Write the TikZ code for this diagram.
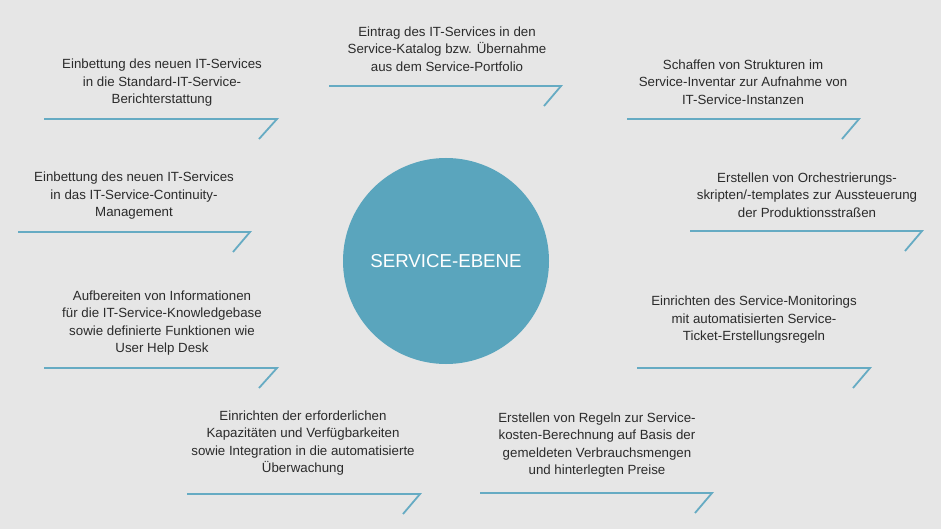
\documentclass[tikz,border=0pt]{standalone}
\usepackage{fontspec}
\setmainfont{Liberation Sans}
\usepackage{tikz}
\definecolor{ebeneblau}{HTML}{5AA5BD}
\definecolor{strichblau}{HTML}{66ABC3}
\definecolor{hgrund}{HTML}{E6E6E6}
\definecolor{schrift}{HTML}{2B2B2B}

\begin{document}
\begin{tikzpicture}[x=1pt,y=-1pt]
    \tikzset{aufgabe/.style={align=center, inner sep=0pt, text=schrift,
        font=\fontsize{13.3}{17.5}\selectfont}};
    \tikzset{strich/.style={draw=strichblau, line width=1.8pt}};
%%
\fill[hgrund] (0,0) rectangle (941,529);
\useasboundingbox (0,0) rectangle (941,529);

\node (ebene) at (446,261) [circle, fill=ebeneblau, minimum size=206pt, inner sep=0pt,
    text=white, font=\fontsize{18.7}{20}\selectfont] {SERVICE-EBENE};

  \node (a1) at (162,83) [aufgabe] {Einbettung des neuen IT-Services\\in die Standard-IT-Service-\\Berichterstattung};
  \node (a2) at (447,49) [aufgabe] {Eintrag des IT-Services in den\\Service-Katalog bzw. Übernahme\\aus dem Service-Portfolio};
  \node (a3) at (743,82) [aufgabe] {Schaffen von Strukturen im\\Service-Inventar zur Aufnahme von\\IT-Service-Instanzen};
  \node (a4) at (807,195) [aufgabe] {Erstellen von Orchestrierungs-\\skripten/-templates zur Aussteuerung\\der Produktionsstraßen};
  \node (a5) at (754,320) [aufgabe] {Einrichten des Service-Monitorings\\mit automatisierten Service-\\Ticket-Erstellungsregeln};
  \node (a6) at (597,445) [aufgabe] {Erstellen von Regeln zur Service-\\kosten-Berechnung auf Basis der\\gemeldeten Verbrauchsmengen\\und hinterlegten Preise};
  \node (a7) at (303,443) [aufgabe] {Einrichten der erforderlichen\\Kapazitäten und Verfügbarkeiten\\sowie Integration in die automatisierte\\Überwachung};
  \node (a8) at (162,323) [aufgabe] {Aufbereiten von Informationen\\für die IT-Service-Knowledgebase\\sowie definierte Funktionen wie\\User Help Desk};
  \node (a9) at (134,196) [aufgabe] {Einbettung des neuen IT-Services\\in das IT-Service-Continuity-\\Management};

  %% Striche unter den Texten
  \draw [strich] (44,119) -- (277,119) -- ++(-18,20);
  \draw [strich] (329,86) -- (561,86) -- ++(-17,20);
  \draw [strich] (627,119) -- (859,119) -- ++(-17,20);
  \draw [strich] (690,231) -- (922,231) -- ++(-17,20);
  \draw [strich] (637,368) -- (870,368) -- ++(-17,20);
  \draw [strich] (480,493) -- (712,493) -- ++(-17,20);
  \draw [strich] (187,494) -- (420,494) -- ++(-17,20);
  \draw [strich] (44,368) -- (277,368) -- ++(-18,20);
  \draw [strich] (18,232) -- (250,232) -- ++(-17,20);
\end{tikzpicture}
\end{document}
